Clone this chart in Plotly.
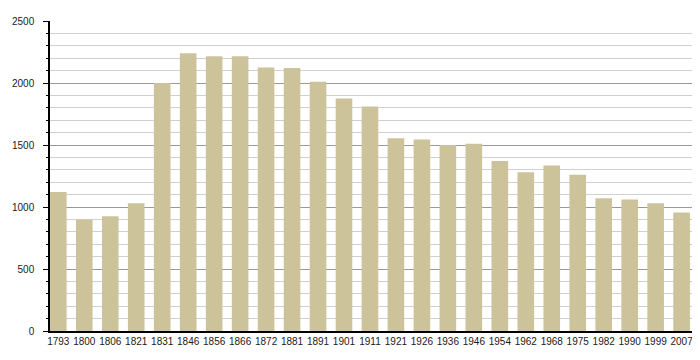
import plotly.graph_objects as go

years = ["1793", "1800", "1806", "1821", "1831", "1846", "1856", "1866", "1872", "1881",
         "1891", "1901", "1911", "1921", "1926", "1936", "1946", "1954", "1962", "1968",
         "1975", "1982", "1990", "1999", "2007"]
population = [1120, 900, 925, 1030, 2000, 2240, 2215, 2215, 2125, 2120,
              2010, 1875, 1810, 1555, 1545, 1500, 1510, 1370, 1280, 1335,
              1260, 1070, 1060, 1030, 955]

bar_color = "#CCC39B"
font_family = "Liberation Sans, Arial, sans-serif"

fig = go.Figure(go.Bar(
    x=list(range(len(years))),
    y=population,
    marker=dict(color=bar_color, line=dict(width=0)),
    width=0.64,
    hoverinfo="x+y",
))

# page body has an 8px default margin, so offset the margins accordingly
fig.update_layout(
    width=700, height=360,
    margin=dict(l=42, r=16, t=13, b=37, autoexpand=False),
    paper_bgcolor="white",
    plot_bgcolor="white",
    showlegend=False,
    font=dict(family=font_family, size=10, color="#1a1a1a"),
)

fig.update_xaxes(
    range=[-0.32, len(years) - 1 + 0.40],
    tickmode="array",
    tickvals=list(range(len(years))),
    ticktext=years,
    tickangle=0,
    showgrid=False,
    ticks="",
    showline=True, linecolor="black", linewidth=1.5,
    zeroline=False,
    automargin=False,
    ticklabelstandoff=0,
    tickfont=dict(size=10, color="#1a1a1a"),
)

fig.update_yaxes(
    range=[0, 2500],
    tickmode="linear", tick0=0, dtick=500,
    showgrid=True, gridcolor="#999999", gridwidth=1,
    ticks="outside", ticklen=5, tickcolor="black", tickwidth=1,
    showline=True, linecolor="black", linewidth=1.5,
    zeroline=False,
    automargin=False,
    ticklabelstandoff=7,
    tickfont=dict(size=10, color="#1a1a1a"),
    minor=dict(dtick=100, showgrid=True, gridcolor="#D0D0D0", gridwidth=1,
               ticks="outside", ticklen=2, tickcolor="black"),
)

fig.write_html("out.html")
